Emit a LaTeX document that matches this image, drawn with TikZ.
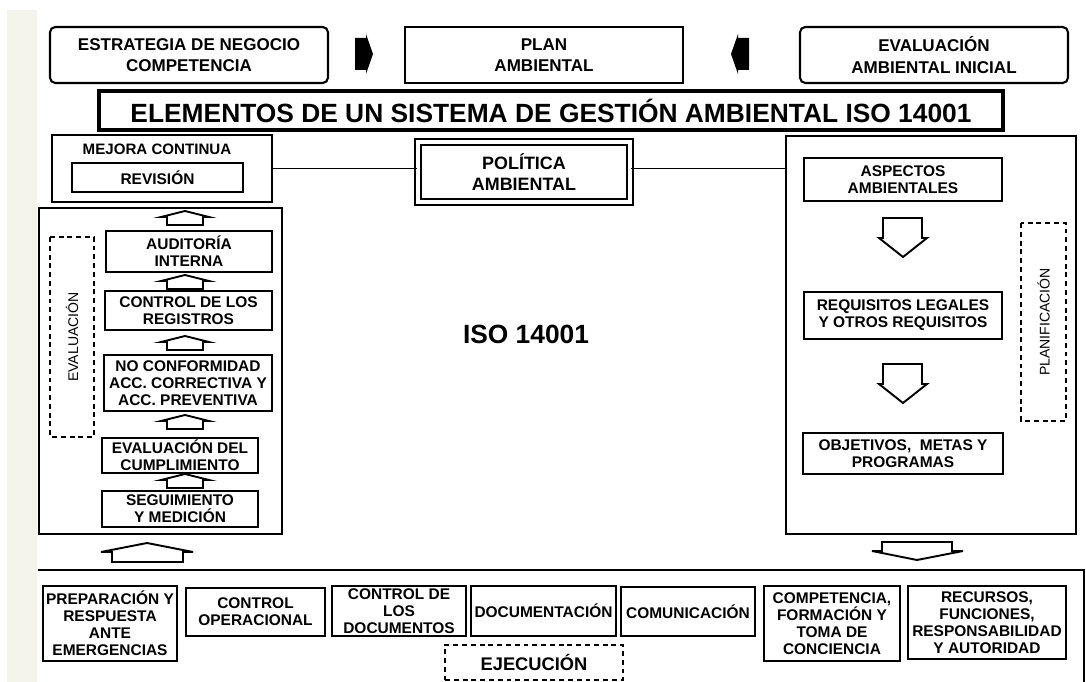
\documentclass[tikz,border=0pt]{standalone}
\usepackage{fontspec}
\setmainfont{Liberation Sans}
\usepackage{tikz}
\usepackage{xcolor}
\definecolor{tira}{HTML}{F4F4EA}

\begin{document}
\begin{tikzpicture}[x=0.02cm, y=-0.02cm,
    caja/.style={draw, line width=1.2pt, inner sep=0pt, align=center,
                 font=\fontsize{8.8}{9.6}\selectfont\bfseries},
    grande/.style={caja, font=\fontsize{9.7}{12}\selectfont\bfseries},
    punteada/.style={draw, line width=1.2pt, dash pattern=on 2.8pt off 2.2pt,
                     inner sep=0pt, align=center, font=\fontsize{8}{9}\selectfont},
    flecha/.style={draw, line width=1.1pt, fill=white, line join=miter}]
    \useasboundingbox (0,0) rectangle (1086,682);
    \fill[tira] (7,10) rectangle (37,682);

    % fila de arriba
    \node[grande, rounded corners=3pt, minimum width=5.56cm, minimum height=1.12cm] (estr) at (189, 55) {ESTRATEGIA DE NEGOCIO\\COMPETENCIA};
    \node[grande, minimum width=5.56cm, minimum height=1.12cm] (plan) at (544, 55) {PLAN\\AMBIENTAL};
    \node[grande, rounded corners=3pt, minimum width=5.36cm, minimum height=1.12cm] (evi) at (934, 55) {EVALUACIÓN\\AMBIENTAL INICIAL};
    \fill (355,38) -- (366,38) -- (366,34) -- (373,54) -- (366,74) -- (366,70) -- (355,70) -- cycle;
    \fill (749,38) -- (738,38) -- (738,34) -- (731,54) -- (738,74) -- (738,70) -- (749,70) -- cycle;

    \node[caja, line width=2.4pt, minimum width=18.08cm, minimum height=0.78cm,
          font=\fontsize{15}{17}\selectfont\bfseries] (title) at (551, 110.5) {ELEMENTOS DE UN SISTEMA DE GESTIÓN AMBIENTAL ISO 14001};

    % mejora y politica
    \node[caja, minimum width=4.4cm, minimum height=1.34cm] (mej) at (162, 168.5) {};
    \node[font=\fontsize{8.6}{10}\selectfont\bfseries] (mejt) at (157, 149) {MEJORA CONTINUA};
    \node[caja, minimum width=3.42cm, minimum height=0.58cm] (rev) at (157.5, 177.5) {REVISIÓN};
    \node[caja, double, double distance=2.2pt, minimum width=4.23cm, minimum height=1.2cm,
          font=\fontsize{10.2}{11.5}\selectfont\bfseries] (pol) at (524, 172) {POLÍTICA\\AMBIENTAL};
    \node[font=\fontsize{15}{17}\selectfont\bfseries] (iso) at (526, 334) {ISO 14001};

    % evaluacion
    \node[caja, minimum width=4.86cm, minimum height=6.52cm] (lbox) at (160.5, 371) {};
    \node[punteada, rotate=90, minimum width=4cm, minimum height=0.88cm] (eval) at (72, 337) {EVALUACIÓN};
    \node[caja, minimum width=3.32cm, minimum height=0.82cm] (aud) at (189, 251.5) {AUDITORÍA\\INTERNA};
    \node[caja, minimum width=3.34cm, minimum height=0.78cm] (reg) at (188.5, 310.5) {CONTROL DE LOS\\REGISTROS};
    \node[caja, minimum width=3.36cm, minimum height=1.12cm] (noc) at (188, 383) {NO CONFORMIDAD\\ACC. CORRECTIVA Y\\ACC. PREVENTIVA};
    \node[caja, minimum width=3.12cm, minimum height=0.7cm] (evc) at (180, 455.5) {EVALUACIÓN DEL\\CUMPLIMIENTO};
    \node[caja, minimum width=3.12cm, minimum height=0.72cm] (seg) at (180, 509) {SEGUIMIENTO\\Y MEDICIÓN};
    \foreach \t in {211,275,336,415,474}
        \draw[flecha] (167,\t+14) -- (167,\t+6) -- (161,\t+6) -- (185,\t) -- (209,\t+6) -- (203,\t+6) -- (203,\t+14) -- cycle;

    % planificacion
    \node[caja, minimum width=5.8cm, minimum height=7.96cm] (rbox) at (931, 335) {};
    \node[punteada, rotate=90, minimum width=3.96cm, minimum height=0.9cm] (plani) at (1043.5, 322) {PLANIFICACIÓN};
    \node[caja, minimum width=3.96cm, minimum height=0.86cm] (asp) at (903, 179.5) {ASPECTOS\\AMBIENTALES};
    \node[caja, minimum width=3.96cm, minimum height=0.94cm] (req) at (903, 315.5) {REQUISITOS LEGALES\\Y OTROS REQUISITOS};
    \node[caja, minimum width=4cm, minimum height=0.82cm] (obj) at (903, 453.5) {OBJETIVOS,\ \ METAS Y\\PROGRAMAS};
    \foreach \t in {218,364}
        \draw[flecha] (883,\t) -- (922,\t) -- (922,\t+20) -- (927,\t+20) -- (903,\t+39) -- (879,\t+20) -- (883,\t+20) -- cycle;

    \draw[line width=1.1pt] (mej.east) -- (mej.east -| pol.west)
                            (pol.east |- mej.east) -- (rbox.west |- mej.east);

    % ejecucion
    \draw[flecha] (112,562) -- (112,552) -- (101,552) -- (147,543) -- (193,552) -- (183,552) -- (183,562) -- cycle;
    \draw[flecha] (882,542) -- (952,542) -- (952,551) -- (963,551) -- (917,560) -- (872,551) -- (882,551) -- cycle;
    \draw[line width=1.3pt] (38,570) -- (1084,570) -- (1084,682);
    \node[caja, minimum width=2.68cm, minimum height=1.5cm] (prep) at (110, 623.5) {PREPARACIÓN Y\\RESPUESTA\\ANTE\\EMERGENCIAS};
    \node[caja, minimum width=2.78cm, minimum height=0.96cm] (cop) at (255.5, 612) {CONTROL\\OPERACIONAL};
    \node[caja, minimum width=2.68cm, minimum height=1cm] (cdoc) at (399, 611) {CONTROL DE\\LOS\\DOCUMENTOS};
    \node[caja, minimum width=2.9cm, minimum height=1cm] (doc) at (543.5, 611) {DOCUMENTACIÓN};
    \node[caja, minimum width=2.68cm, minimum height=0.98cm] (com) at (688, 611.5) {COMUNICACIÓN};
    \node[caja, minimum width=2.72cm, minimum height=1.5cm] (comp) at (832, 623.5) {COMPETENCIA,\\FORMACIÓN Y\\TOMA DE\\CONCIENCIA};
    \node[caja, minimum width=3.16cm, minimum height=1.46cm] (rec) at (987, 622.5) {RECURSOS,\\FUNCIONES,\\RESPONSABILIDAD\\Y AUTORIDAD};
    \node[punteada, minimum width=3.56cm, minimum height=0.7cm,
          font=\fontsize{10.4}{12}\selectfont\bfseries] (ejec) at (534, 662.5) {EJECUCIÓN};
\end{tikzpicture}
\end{document}
